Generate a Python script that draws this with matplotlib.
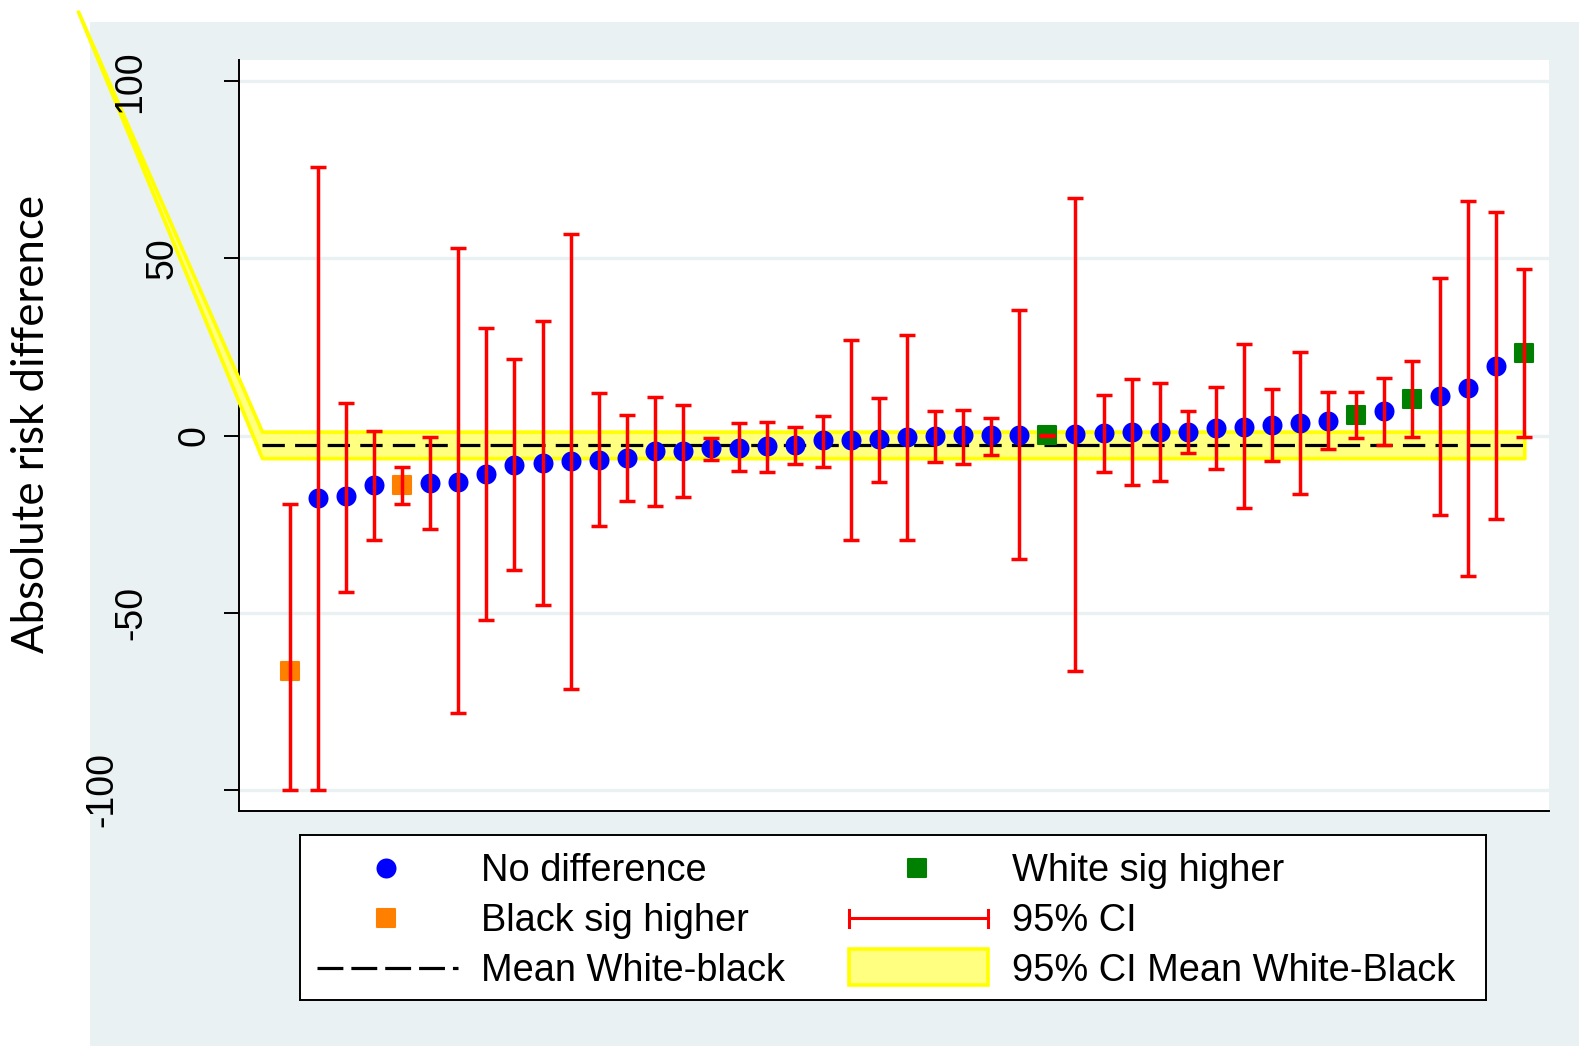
import matplotlib
matplotlib.use("Agg")
import matplotlib.pyplot as plt
import matplotlib.transforms as mtransforms
from matplotlib.patches import Rectangle
from matplotlib.markers import MarkerStyle
import numpy as np

# Risk difference (White - Black) per measure, sorted, with 95% CI
est = [-66.4, -17.7, -17.0, -13.9, -13.9, -13.5, -13.0, -10.8, -8.3, -7.8,
       -7.3, -6.9, -6.4, -4.5, -4.3, -3.6, -3.4, -2.9, -2.6, -1.4,
       -1.2, -1.0, -0.5, 0.0, 0.2, 0.2, 0.2, 0.1, 0.4, 0.7,
       1.1, 1.1, 1.1, 2.1, 2.5, 3.0, 3.5, 4.2, 5.8, 6.8,
       10.3, 11.2, 13.4, 19.5, 23.3]
ci_lo = [-100.0, -100.0, -44.2, -29.6, -19.4, -26.5, -78.4, -52.1, -37.9, -47.8,
         -71.6, -25.6, -18.4, -20.0, -17.5, -6.9, -9.9, -10.2, -8.1, -8.9,
         -29.4, -13.2, -29.4, -7.6, -8.1, -5.5, -35.0, 0.0, -66.6, -10.2,
         -13.9, -12.8, -4.8, -9.4, -20.5, -7.1, -16.6, -3.8, -0.6, -2.6,
         -0.4, -22.5, -39.6, -23.7, -0.4]
ci_hi = [-19.2, 75.9, 9.2, 1.4, -8.8, -0.5, 52.8, 30.4, 21.6, 32.3,
         56.8, 12.1, 5.8, 11.0, 8.6, -0.6, 3.5, 3.7, 2.4, 5.6,
         26.9, 10.7, 28.4, 6.8, 7.3, 4.9, 35.5, 0.2, 67.1, 11.5,
         15.9, 14.8, 6.8, 13.6, 25.8, 13.1, 23.6, 12.4, 12.4, 16.2,
         21.1, 44.6, 66.2, 63.0, 47.0]
# "none" = no difference, "black" = Black sig higher, "white" = White sig higher
group = ["black", "none", "none", "none", "black", "none", "none", "none", "none", "none",
         "none", "none", "none", "none", "none", "none", "none", "none", "none", "none",
         "none", "none", "none", "none", "none", "none", "none", "white", "none", "none",
         "none", "none", "none", "none", "none", "none", "none", "none", "white", "none",
         "white", "none", "none", "none", "white"]

# Pooled mean White-Black difference and its 95% CI band
mean_diff = -2.6
mean_lo = -6.4
mean_hi = 1.1
band_x = [-6.56, 0, 45]
band_hi = [119.7, mean_hi, mean_hi]
band_lo = [119.7, mean_lo, mean_lo]

yticks = [-100, -50, 0, 50, 100]
ytick_labels = ["-100", "-50", "0", "50", "100"]

W, H = 1579, 1046
BG = "#EAF1F3"
ARIAL = ["Liberation Sans", "DejaVu Sans"]

fig = plt.figure(figsize=(W / 100, H / 100), dpi=100)
fig.patch.set_facecolor("white")
fig.patches.append(Rectangle((90 / W, 0), 1 - 90 / W, 1 - 22 / H,
                             transform=fig.transFigure, facecolor=BG,
                             edgecolor="none", zorder=-10))

ax = fig.add_axes([239 / W, 1 - 811 / H, (1549 - 239) / W, (811 - 60) / H])
ax.set_zorder(1)
ax.set_facecolor("white")
ax.set_xlim(-0.82, 45.88)
ax.set_ylim(-106, 106)
for s in ("top", "right"):
    ax.spines[s].set_visible(False)
for s in ("left", "bottom"):
    ax.spines[s].set_color("black")
    ax.spines[s].set_linewidth(1.4)
ax.set_xticks([])
ax.set_yticks(yticks)
ax.set_yticklabels([])
ax.tick_params(axis="y", length=10.8, width=1.4, color="black", direction="out")
ax.yaxis.grid(True, color=BG, lw=2.4)
ax.set_axisbelow(True)

x = np.arange(1, len(est) + 1)
est_a = np.array(est)
lo_a = np.array(ci_lo)
hi_a = np.array(ci_hi)
grp = np.array(group)

# CI band for the mean
ax.fill_between(band_x, band_lo, band_hi, facecolor="#FFFF80", edgecolor="#FFFF00",
                lw=2.6, clip_on=False, zorder=2.6)
# mean line
ax.plot([band_x[1], band_x[-1]], [mean_diff, mean_diff], color="black", lw=2.3,
        dashes=(7.0, 3.2), zorder=2.7)

sq = MarkerStyle("s", joinstyle="round")
styles = {
    "none": dict(marker="o", color="#0000FF", ms=14.4, mew=0),
    "black": dict(marker=sq, color="#FF8000", ms=13.0, mew=1.5),
    "white": dict(marker=sq, color="#008000", ms=13.0, mew=1.5),
}
for g, st in styles.items():
    m = grp == g
    ax.plot(x[m], est_a[m], ls="none", marker=st["marker"], ms=st["ms"],
            mfc=st["color"], mec=st["color"], mew=st["mew"], zorder=3)

ax.errorbar(x, est_a, yerr=[est_a - lo_a, hi_a - est_a], fmt="none", ecolor="#FF0000",
            elinewidth=2.5, capsize=5.8, capthick=2.5, zorder=3.5)

# rotated y tick labels
label_tr = mtransforms.blended_transform_factory(fig.transFigure, ax.transData)
label_xpx = [102.5, 131.5, 195, 162.5, 130]
for v, t, px in zip(yticks, ytick_labels, label_xpx):
    fig.text(px / W, v, t, transform=label_tr, rotation=90, ha="center", va="center",
             fontsize=27, family=ARIAL, color="black")

fig.text(32 / W, 1 - 424 / H, "Absolute risk difference", rotation=90, ha="center",
         va="center", fontsize=31.5, family=["Lato", "DejaVu Sans"], color="black")

# legend
lx0, ly0, lx1, ly1 = 300, 835, 1486, 1000
lax = fig.add_axes([lx0 / W, 1 - ly1 / H, (lx1 - lx0) / W, (ly1 - ly0) / H])
lax.set_zorder(1)
lax.set_xlim(lx0, lx1)
lax.set_ylim(ly1, ly0)
lax.set_xticks([])
lax.set_yticks([])
lax.set_facecolor("white")
for s in lax.spines.values():
    s.set_linewidth(1.4)
    s.set_color("black")

rows = [868, 918, 968]
lax.plot([386], [rows[0]], marker="o", ms=14.4, mfc="#0000FF", mec="#0000FF", mew=0)
lax.plot([386], [rows[1]], marker=sq, ms=12.8, mfc="#FF8000", mec="#FF8000", mew=1.5)
lax.plot([317, 458], [rows[2], rows[2]], color="black", lw=2.3, dashes=(8.1, 2.5))
lax.plot([917], [rows[0]], marker=sq, ms=12.8, mfc="#008000", mec="#008000", mew=1.5)
lax.plot([849, 988], [rows[1], rows[1]], color="#FF0000", lw=2.2)
for cx in (849, 988):
    lax.plot([cx, cx], [rows[1] - 8.5, rows[1] + 8.5], color="#FF0000", lw=2.2)
lax.add_patch(Rectangle((849, 949), 139, 36, facecolor="#FFFF80", edgecolor="#FFFF00", lw=2.6))

left_texts = ["No difference", "Black sig higher", "Mean White-black"]
right_texts = ["White sig higher", "95% CI", "95% CI Mean White-Black"]
for r, t in zip(rows, left_texts):
    lax.text(481, r + 3, t, ha="left", va="center", fontsize=27.4, family=ARIAL)
for r, t in zip(rows, right_texts):
    lax.text(1012, r + 3, t, ha="left", va="center", fontsize=27.4, family=ARIAL)

fig.savefig("out.png", dpi=100, facecolor=fig.get_facecolor())
